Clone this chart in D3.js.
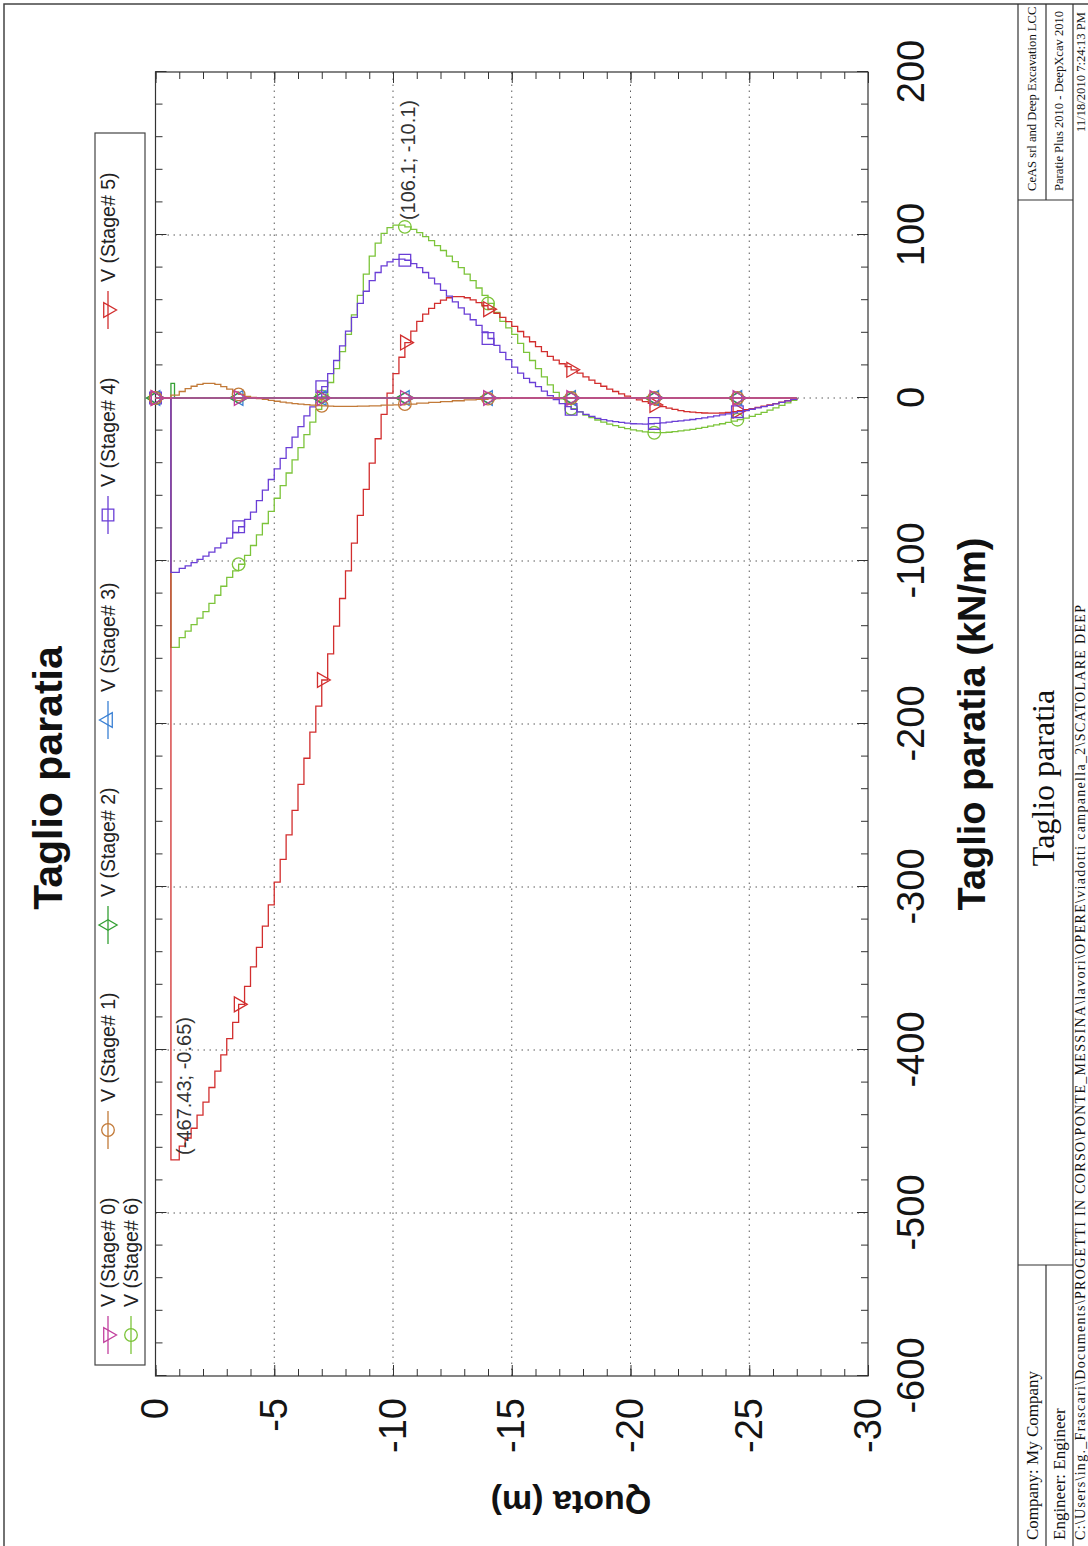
<!DOCTYPE html>
<html>
<head>
<meta charset="utf-8">
<script src="https://cdn.jsdelivr.net/npm/d3@7"></script>
<style>
  html, body { margin: 0; padding: 0; background: #fff; }
  svg { display: block; }
</style>
</head>
<body>
<svg id="page" width="1088" height="1546"></svg>
<script>
// ---------------------------------------------------------------------------
// Shear along the wall (Taglio paratia), one series per construction stage.
// Depths (Quota, m) of the wall nodes and the shear V (kN/m) at each node.
// ---------------------------------------------------------------------------
const nodeQuota = [0, -0.65, -1, -1.25, -1.5, -1.75, -2, -2.25, -2.5, -2.75, -3, -3.25, -3.5, -3.75,
  -4, -4.25, -4.5, -4.75, -5, -5.25, -5.5, -5.75, -6, -6.25, -6.5, -6.75, -7, -7.25, -7.5, -7.75,
  -8, -8.25, -8.5, -8.75, -9, -9.25, -9.5, -9.75, -10, -10.25, -10.5, -10.75, -11, -11.25, -11.5, -11.75,
  -12, -12.25, -12.5, -12.75, -13, -13.25, -13.5, -13.75, -14, -14.25, -14.5, -14.75, -15, -15.25, -15.5, -15.75,
  -16, -16.25, -16.5, -16.75, -17, -17.25, -17.5, -17.75, -18, -18.25, -18.5, -18.75, -19, -19.25, -19.5, -19.75,
  -20, -20.25, -20.5, -20.75, -21, -21.25, -21.5, -21.75, -22, -22.25, -22.5, -22.75, -23, -23.25, -23.5, -23.75,
  -24, -24.25, -24.5, -24.75, -25, -25.25, -25.5, -25.75, -26, -26.25, -26.5, -26.75, -27];

// Stage 4 shear at the nodes
const shearStage4 = [0, -107, -104.5, -103, -101, -99, -97, -94.5, -92, -89, -86, -82.5, -79, -74.5,
  -70, -63, -56.5, -50, -43.5, -37, -30.5, -24, -17.5, -11, -5.5, 0.5, 7, 15, 23, 32,
  41, 49.5, 58, 65.5, 72, 77, 81, 83.5, 85, 85.2, 84.5, 82.5, 80, 77, 73.5, 70,
  66, 62.5, 59, 55.3, 51.5, 48, 44.5, 40.5, 36.5, 32.3, 28, 23.5, 19, 15.3, 12, 9.5,
  7, 4.2, 1.5, -1, -3.5, -5.3, -7, -8.5, -10, -11.3, -12.5, -13.3, -14, -14.5, -15, -15.4,
  -15.8, -15.9, -16, -15.8, -15.6, -15.2, -14.8, -14.4, -14, -13.6, -13.2, -12.7, -12.2, -11.6, -11, -10.4,
  -9.7, -9.1, -8.4, -7.7, -6.9, -6.1, -5.3, -4.5, -3.6, -2.7, -1.8, -0.9, 0];

// Stage 5 shear at the nodes
const shearStage5 = [0, -467.43, -459, -454, -448, -440, -432, -423, -413, -403, -393, -383, -372, -361,
  -349, -337, -324, -311, -297, -283, -268, -253, -237, -221, -205, -189, -173, -157, -140, -123,
  -106, -89, -72, -56, -40, -25, -10, 3, 15, 25, 34, 41, 47, 51.5, 55, 58,
  60, 61.5, 62.2, 62.2, 61.5, 60.2, 58.5, 56.6, 54.5, 52, 49.5, 46.8, 44, 40.8, 37.5, 34.5,
  31.5, 28.5, 25.5, 23.2, 21, 19.2, 17.3, 15.2, 13, 11, 9, 7.2, 5.5, 4, 2.5, 1.2,
  0, -1.1, -2.2, -3.3, -4.3, -5.3, -6.2, -7, -7.8, -8.3, -8.7, -9, -9.2, -9.3, -9.3, -9.2,
  -8.9, -8.4, -7.8, -7.2, -6.5, -5.8, -5, -4.2, -3.4, -2.5, -1.7, -0.8, 0];

// Stage 6 shear at the nodes
const shearStage6 = [0, -153, -147, -143, -139, -135, -131, -126, -121, -115.5, -110, -106, -102, -96.5,
  -90.5, -84, -77, -69.5, -61.5, -53.7, -46, -38, -30.5, -22.5, -14.8, -7, 1, 9.5, 18, 28.5,
  39, 51, 63, 76, 87, 95, 101, 104.5, 106.1, 106, 105, 103.5, 101.5, 99, 96.5, 93.5,
  90.5, 87, 83.7, 80, 76, 72, 67.5, 63, 58, 52.5, 47, 43, 39, 33.5, 28, 23,
  18, 13, 8, 3.5, -0.5, -3.5, -6.5, -8.5, -10.5, -12, -13.5, -14.8, -16, -17, -18, -18.8,
  -19.5, -20.2, -20.8, -21.1, -21.3, -21.2, -21, -20.6, -20.2, -19.7, -19.2, -18.6, -18, -17.3, -16.5, -15.8,
  -15, -14.2, -13.3, -12.3, -11.3, -10, -8.8, -7.4, -6, -4.5, -3, -1.5, 0];

// Stages with few distinct values: [quota, shear] pairs
const shearStage0 = [[0, 0], [-27, 0]];
const shearStage1 = [[0, 0], [-0.65, 1.8], [-1, 4], [-1.25, 5.8], [-1.5, 7.2], [-1.75, 8.3], [-2, 9],
  [-2.25, 9], [-2.5, 8.3], [-2.75, 7], [-3, 5.5], [-3.25, 3.8], [-3.5, 2.2], [-3.75, 1], [-4, 0.3],
  [-4.25, -0.3], [-4.5, -0.9], [-4.75, -1.5], [-5, -2], [-5.25, -2.5], [-5.5, -3], [-5.75, -3.4],
  [-6, -3.8], [-6.25, -4.1], [-6.5, -4.4], [-6.75, -4.6], [-7, -4.8], [-7.25, -5], [-7.5, -5.1],
  [-8, -5.1], [-8.5, -5], [-9, -4.8], [-9.5, -4.4], [-10, -4.2], [-10.5, -3.7], [-11, -3.2],
  [-11.5, -2.7], [-12, -2.2], [-12.5, -1.7], [-13, -1.2], [-13.5, -0.8], [-14, -0.4], [-14.5, 0], [-27, 0]];
const shearStage2 = [[0, 0], [-0.65, 9], [-0.8, 0], [-27, 0]];
const shearStage3 = [[0, 0], [-27, 0]];

// Depths where the series symbols are placed
const markerQuota = [0, -3.5, -7, -10.5, -14, -17.5, -21, -24.5];

// Legend names, colours, symbols
const stageNames = ["V (Stage# 0)", "V (Stage# 1)", "V (Stage# 2)", "V (Stage# 3)",
                    "V (Stage# 4)", "V (Stage# 5)", "V (Stage# 6)"];
const stageColors = ["#c2409e", "#c27a38", "#34a034", "#3a80d4", "#6a3ed6", "#d22e2e", "#7cc43a"];
const stageSymbols = ["triangleDown", "circle", "diamond", "triangleUp", "square", "triangleDown", "circle"];

// Axis ticks
const valueTicks = [-600, -500, -400, -300, -200, -100, 0, 100, 200];
const quotaTicks = [0, -5, -10, -15, -20, -25, -30];
const valueGrid = [-500, -400, -300, -200, -100, 0, 100];
const quotaGrid = [-5, -10, -15, -20, -25];

// Annotated extreme points
const pointLabels = [
  { v: 106.1, q: -10.1, text: "(106.1; -10.1)" },
  { v: -467.43, q: -0.65, text: "(-467.43; -0.65)" }
];

// Title block texts
const chartTitle = "Taglio paratia";
const valueTitle = "Taglio paratia (kN/m)";
const quotaTitle = "Quota (m)";
const footerLeft = ["Company: My Company", "Engineer: Engineer"];
const footerPath = "C:\\Users\\ing._Frascari\\Documents\\PROGETTI IN CORSO\\PONTE_MESSINA\\lavori\\OPERE\\viadotti campanella_2\\SCATOLARE DEEP";
const footerRight = ["CeAS srl and Deep Excavation LCC", "Paratie Plus 2010 - DeepXcav 2010"];
const footerDate = "11/18/2010 7:24:13 PM";

// ---------------------------------------------------------------------------
// The sheet is laid out in landscape (1546 x 1088) and turned a quarter turn
// so that it reads from the bottom of the portrait page.
// ---------------------------------------------------------------------------
const SHEET_W = 1546;
const SANS = "'Liberation Sans', Arial, Helvetica, sans-serif";
const SERIF = "'Liberation Serif', 'Times New Roman', Times, serif";

const svg = d3.select("#page");
svg.append("rect").attr("width", 1088).attr("height", 1546).attr("fill", "#fff");
const sheet = svg.append("g").attr("transform", `translate(0,${SHEET_W}) rotate(-90)`);

const plot = { left: 170, right: 1474, top: 155.5, bottom: 868 };
const x = d3.scaleLinear().domain([-600, 200]).range([plot.left, plot.right]);
const y = d3.scaleLinear().domain([0, -30]).range([plot.top, plot.bottom]);

// Sheet border
sheet.append("path")
  .attr("d", `M0,4 H1542 V1100`)
  .attr("fill", "none").attr("stroke", "#444").attr("stroke-width", 1.5);

// Grid
const grid = sheet.append("g").attr("stroke", "#5a5a5a").attr("stroke-width", 1)
  .attr("stroke-dasharray", "1.5 4.5");
grid.selectAll("line.gv").data(valueGrid).join("line").attr("class", "gv")
  .attr("x1", d => x(d)).attr("x2", d => x(d)).attr("y1", plot.top).attr("y2", plot.bottom);
grid.selectAll("line.gq").data(quotaGrid).join("line").attr("class", "gq")
  .attr("x1", plot.left).attr("x2", plot.right).attr("y1", d => y(d)).attr("y2", d => y(d));

// Axes: ticks point into the plot on all four sides, labels on bottom and left
const minorValue = d3.range(-600, 201, 20);
const minorQuota = d3.range(0, -30.5, -1);
const noLabel = () => "";

function styleAxis(g, size) {
  g.select(".domain").remove();
  g.selectAll(".tick line").attr("stroke", "#333").attr("stroke-width", 1);
  g.attr("font-family", SANS).attr("font-size", size);
  g.selectAll("text").attr("fill", "#141414");
}

const axBottom = sheet.append("g").attr("transform", `translate(0,${plot.bottom})`)
  .call(d3.axisBottom(x).tickValues(minorValue).tickSize(-7).tickFormat(noLabel));
styleAxis(axBottom, 10);
const axBottomMajor = sheet.append("g").attr("transform", `translate(0,${plot.bottom})`)
  .call(d3.axisBottom(x).tickValues(valueTicks).tickSize(-11).tickPadding(29).tickFormat(d => String(d)));
styleAxis(axBottomMajor, 38);

const axTop = sheet.append("g").attr("transform", `translate(0,${plot.top})`)
  .call(d3.axisTop(x).tickValues(minorValue).tickSize(-7).tickFormat(noLabel));
styleAxis(axTop, 10);
const axTopMajor = sheet.append("g").attr("transform", `translate(0,${plot.top})`)
  .call(d3.axisTop(x).tickValues(valueTicks).tickSize(-11).tickFormat(noLabel));
styleAxis(axTopMajor, 10);

const axLeft = sheet.append("g").attr("transform", `translate(${plot.left},0)`)
  .call(d3.axisLeft(y).tickValues(minorQuota).tickSize(-7).tickFormat(noLabel));
styleAxis(axLeft, 10);
const axLeftMajor = sheet.append("g").attr("transform", `translate(${plot.left},0)`)
  .call(d3.axisLeft(y).tickValues(quotaTicks).tickSize(-11).tickPadding(22).tickFormat(d => String(d)));
styleAxis(axLeftMajor, 38);

const axRight = sheet.append("g").attr("transform", `translate(${plot.right},0)`)
  .call(d3.axisRight(y).tickValues(minorQuota).tickSize(-7).tickFormat(noLabel));
styleAxis(axRight, 10);
const axRightMajor = sheet.append("g").attr("transform", `translate(${plot.right},0)`)
  .call(d3.axisRight(y).tickValues(quotaTicks).tickSize(-11).tickFormat(noLabel));
styleAxis(axRightMajor, 10);

// Plot frame
sheet.append("rect")
  .attr("x", plot.left).attr("y", plot.top)
  .attr("width", plot.right - plot.left).attr("height", plot.bottom - plot.top)
  .attr("fill", "none").attr("stroke", "#333").attr("stroke-width", 1.2);

// Series tables
const fromNodes = vals => nodeQuota.map((q, i) => ({ q, v: vals[i] }));
const fromPairs = pairs => pairs.map(([q, v]) => ({ q, v }));
const seriesPoints = [
  fromPairs(shearStage0), fromPairs(shearStage1), fromPairs(shearStage2), fromPairs(shearStage3),
  fromNodes(shearStage4), fromNodes(shearStage5), fromNodes(shearStage6)
];
const series = stageNames.map((name, i) => ({
  name, color: stageColors[i], symbol: stageSymbols[i], points: seriesPoints[i]
}));

// Shear is constant over each element, so the profile is drawn as steps
const line = d3.line().x(d => x(d.v)).y(d => y(d.q)).curve(d3.curveStepBefore);

function valueAt(points, q) {
  let v = 0;
  for (const p of points) { if (p.q >= q - 1e-9) v = p.v; else break; }
  return v;
}

const symbolTypes = {
  circle: d3.symbolCircle, square: d3.symbolSquare, diamond: d3.symbolDiamond,
  triangleUp: d3.symbolTriangle, triangleDown: d3.symbolTriangle
};
const symbolSizes = { circle: 125, square: 135, diamond: 95, triangleUp: 95, triangleDown: 95 };
function symbolPath(name) {
  return d3.symbol().type(symbolTypes[name]).size(symbolSizes[name])();
}
function symbolRotation(name) { return name === "triangleDown" ? " rotate(180)" : ""; }

const curves = sheet.append("g");
// later stages lie underneath the earlier ones
series.slice().reverse().forEach(s => {
  const g = curves.append("g");
  g.append("path").datum(s.points)
    .attr("d", line).attr("fill", "none")
    .attr("stroke", s.color).attr("stroke-width", 1.3).attr("stroke-linejoin", "miter");
  g.selectAll("path.mk").data(markerQuota).join("path").attr("class", "mk")
    .attr("d", symbolPath(s.symbol))
    .attr("transform", q => `translate(${x(valueAt(s.points, q))},${y(q)})${symbolRotation(s.symbol)}`)
    .attr("fill", "none").attr("stroke", s.color).attr("stroke-width", 1.3);
});

// Extreme-value annotations
sheet.append("g").selectAll("text").data(pointLabels).join("text")
  .attr("x", d => x(d.v) + 5).attr("y", d => y(d.q) + 20)
  .attr("font-family", SANS).attr("font-size", 20).attr("fill", "#333")
  .text(d => d.text);

// Titles
sheet.append("text").attr("x", 768).attr("y", 62).attr("text-anchor", "middle")
  .attr("font-family", SANS).attr("font-size", 41).attr("font-weight", "bold").attr("fill", "#111")
  .text(chartTitle);
sheet.append("text").attr("x", (plot.left + plot.right) / 2).attr("y", 985).attr("text-anchor", "middle")
  .attr("font-family", SANS).attr("font-size", 38).attr("font-weight", "bold").attr("fill", "#111")
  .text(valueTitle);
sheet.append("text").attr("transform", "translate(55,571) rotate(-90)").attr("text-anchor", "middle")
  .attr("font-family", SANS).attr("font-size", 34).attr("font-weight", "bold").attr("fill", "#111")
  .text(quotaTitle);

// Legend
const legend = sheet.append("g");
legend.append("rect").attr("x", 181).attr("y", 95).attr("width", 1232).attr("height", 50)
  .attr("fill", "#fff").attr("stroke", "#444").attr("stroke-width", 1.2);
const legendPos = (i) => i < 6 ? { x: 211 + 205 * i, y: 108 } : { x: 211, y: 131 };
const items = legend.selectAll("g.item").data(series).join("g").attr("class", "item")
  .attr("transform", (d, i) => `translate(${legendPos(i).x},${legendPos(i).y})`);
items.append("line").attr("x1", -19).attr("x2", 19)
  .attr("stroke", d => d.color).attr("stroke-width", 1.3);
items.append("path").attr("d", d => symbolPath(d.symbol))
  .attr("transform", d => symbolRotation(d.symbol).trim())
  .attr("fill", "none").attr("stroke", d => d.color).attr("stroke-width", 1.3);
items.append("text").attr("x", 28).attr("dy", "0.35em")
  .attr("font-family", SANS).attr("font-size", 19.5).attr("fill", "#222")
  .text(d => d.name);

// Title block
const tb = sheet.append("g").attr("stroke", "#333").attr("stroke-width", 1.2).attr("fill", "none");
tb.append("line").attr("x1", 0).attr("x2", 1542).attr("y1", 1018).attr("y2", 1018);
tb.append("line").attr("x1", 0).attr("x2", 1542).attr("y1", 1073).attr("y2", 1073);
tb.append("line").attr("x1", 0).attr("x2", 281).attr("y1", 1046).attr("y2", 1046);
tb.append("line").attr("x1", 1346).attr("x2", 1542).attr("y1", 1046).attr("y2", 1046);
tb.append("line").attr("x1", 281).attr("x2", 281).attr("y1", 1018).attr("y2", 1073);
tb.append("line").attr("x1", 1346).attr("x2", 1346).attr("y1", 1018).attr("y2", 1073);

const tbText = sheet.append("g").attr("font-family", SERIF).attr("fill", "#111");
tbText.selectAll("text.l").data(footerLeft).join("text").attr("class", "l")
  .attr("x", 6).attr("y", (d, i) => 1038 + i * 27).attr("font-size", 17).text(d => d);
tbText.append("text").attr("x", 6).attr("y", 1085).attr("font-size", 14)
  .attr("textLength", 935).attr("lengthAdjust", "spacing").text(footerPath);
tbText.append("text").attr("x", 768).attr("y", 1054).attr("text-anchor", "middle")
  .attr("font-size", 32).text(chartTitle);
tbText.selectAll("text.r").data(footerRight).join("text").attr("class", "r")
  .attr("x", 1355).attr("y", (d, i) => 1036 + i * 27).attr("font-size", 12.6).text(d => d);
tbText.append("text").attr("x", 1534).attr("y", 1085).attr("text-anchor", "end")
  .attr("font-size", 12.6).text(footerDate);
</script>
</body>
</html>
